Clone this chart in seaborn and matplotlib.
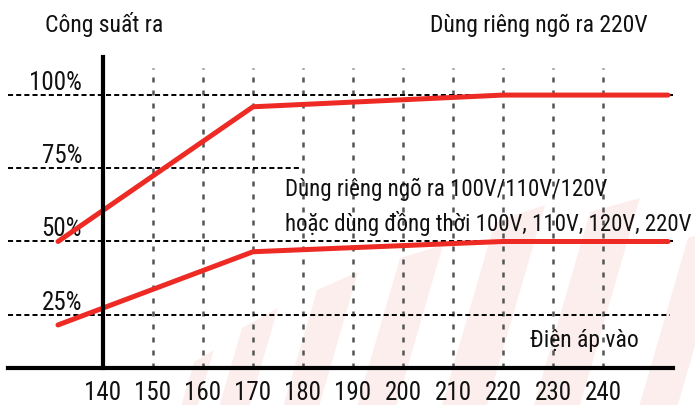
import pandas as pd
import seaborn as sns
import matplotlib.pyplot as plt
from matplotlib.patches import Polygon
from matplotlib.transforms import ScaledTranslation

# curve: input voltage -> output power (%)
volt_220 = [131, 170, 220, 253]
power_220 = [50, 96, 100, 100]
volt_multi = [131, 170, 220, 253]
power_multi = [21.5, 46.5, 50, 50]

x_ticks = [140, 150, 160, 170, 180, 190, 200, 210, 220, 230, 240]
y_ticks = [25, 50, 75, 100]
y_labels = ['25%', '50%', '75%', '100%']

df = pd.concat([
    pd.DataFrame({'volt': volt_220, 'power': power_220, 'mode': '220V'}),
    pd.DataFrame({'volt': volt_multi, 'power': power_multi, 'mode': 'multi'}),
])

sns.set_style('white')
plt.rcParams['font.family'] = ['Roboto Condensed', 'Barlow Semi Condensed',
                               'Asap Condensed', 'DejaVu Sans']
plt.rcParams['text.color'] = '#111111'
plt.rcParams['xtick.color'] = '#111111'
plt.rcParams['ytick.color'] = '#111111'

W, H = 695, 405
fig = plt.figure(figsize=(W / 100, H / 100), dpi=100)
ax = fig.add_axes([8 / W, 37 / H, 665 / W, 311 / H])
ax.patch.set_alpha(0)

##WATERMARK STRIPES (faint, behind everything), pixel corners from top-left ....
stripes = [((194, 362), (214, 350)), ((242, 328), (278, 308)), ((317, 290), (358, 272)),
           ((400, 258), (443, 245)), ((495, 222), (545, 205)), ((590, 212), (640, 198)),
           ((688, 238), (730, 225))]
for (xl, yl), (xr, yr) in stripes:
    pts = [(xl - 0.29 * (H - yl), H), (xr - 0.29 * (H - yr), H), (xr, yr), (xl, yl)]
    pts = [(px / W, 1 - py / H) for px, py in pts]
    fig.patches.append(Polygon(pts, closed=True, transform=fig.transFigure,
                               facecolor='#fdeeee', edgecolor='none', zorder=-1))

ax.set_xlim(121, 254)
ax.set_ylim(6.8, 113)

##GRID LINES ....
ax.vlines(x_ticks[1:], 6.8, 109.2, colors='#555555', lw=1.8,
          linestyles=(0, (2, 3.2)), zorder=1)
ax.hlines(100, 121, 254, colors='black', lw=1.4, linestyles=(0, (2.6, 1.6)), zorder=1)
ax.hlines(75, 121, 179.4, colors='black', lw=1.4, linestyles=(0, (2.6, 1.6)), zorder=1)
ax.hlines(50, 121, 254, colors='black', lw=1.4, linestyles=(0, (2.6, 1.6)), zorder=1)
ax.hlines(25, 121, 253.4, colors='black', lw=1.4, linestyles=(0, (2.6, 1.6)), zorder=1)

sns.lineplot(data=df, x='volt', y='power', hue='mode', sort=False,
             palette=['#ee2a24', '#ee2a24'], lw=3.6, legend=False, ax=ax, zorder=3)

##AXES ....
for s in ['top', 'right']:
    ax.spines[s].set_visible(False)
ax.spines['left'].set_position(('data', 140))
for s in ['left', 'bottom']:
    ax.spines[s].set_linewidth(3)
    ax.spines[s].set_color('black')
    ax.spines[s].set_zorder(4)

ax.set_xticks(x_ticks)
ax.set_xticklabels([str(v) for v in x_ticks])
ax.set_yticks(y_ticks)
ax.set_yticklabels(y_labels)
ax.tick_params(axis='x', length=0, pad=9, labelsize=18)
ax.tick_params(axis='y', length=0, pad=15, labelsize=18)
for lab in ax.get_yticklabels():
    lab.set_verticalalignment('baseline')
    lab.set_transform(lab.get_transform() + ScaledTranslation(0, 0.05, fig.dpi_scale_trans))
ax.set_xlabel('')
ax.set_ylabel('')

##TEXTS ....
fs = 17
fig.text(45 / W, 1 - 32 / H, 'Công suất ra', fontsize=fs, va='baseline')
fig.text(430 / W, 1 - 32 / H, 'Dùng riêng ngõ ra 220V', fontsize=fs, va='baseline')
fig.text(285 / W, 1 - 196 / H, 'Dùng riêng ngõ ra 100V/110V/120V', fontsize=16.5, va='baseline')
fig.text(285 / W, 1 - 231 / H, 'hoặc dùng đồng thời 100V, 110V, 120V, 220V',
         fontsize=16.5, va='baseline')
fig.text(530 / W, 1 - 347 / H, 'Điện áp vào', fontsize=fs, va='baseline')

fig.savefig('out.png', dpi=100)
